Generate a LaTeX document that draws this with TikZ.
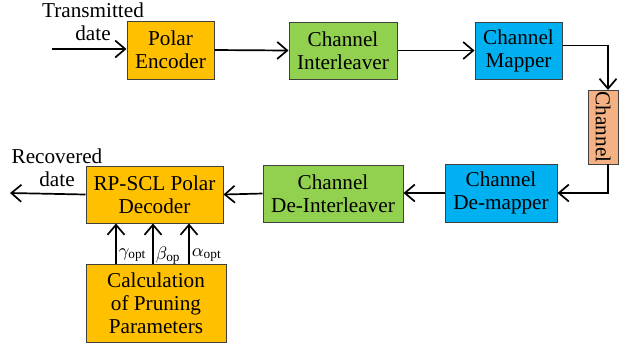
\documentclass[tikz,border=0pt]{standalone}
\usepackage{fontspec}
\setmainfont{Liberation Serif}
\usepackage{amsmath}
\usepackage{tikz}
\usetikzlibrary{calc}
\usetikzlibrary{arrows.meta}

\definecolor{encorange}{HTML}{FFC000}
\definecolor{intgreen}{HTML}{92D050}
\definecolor{mapblue}{HTML}{00B0F0}
\definecolor{chansalmon}{HTML}{F4B183}

\tikzset{
  blockbox/.style={draw=black!75, line width=0.5pt, align=center, inner sep=0pt,
    font=\fontsize{10.6}{11.5}\selectfont},
  flowarr/.style={line width=0.85pt, -{Straight Barb[length=5pt,width=8.5pt,line width=0.85pt]}},
  sidelabel/.style={align=center, font=\fontsize{10.6}{11.5}\selectfont}
}

\begin{document}
\begin{tikzpicture}[x=0.5pt,y=-0.5pt]
                \useasboundingbox (0,0) rectangle (619,345);

                % Drawing the transmitter blocks
                \node [blockbox, fill=encorange, minimum width=43.5pt, minimum height=29pt] (enc) at (170.5,50) {Polar\\Encoder};
                \node [blockbox, fill=intgreen, minimum width=54pt, minimum height=28.5pt] (intl) at (343,50.5) {Channel\\Interleaver};
                \node [blockbox, fill=mapblue, minimum width=43.5pt, minimum height=28.5pt] (mapper) at (518.5,50.5) {Channel\\Mapper};

                % Drawing the channel
                \node [blockbox, fill=chansalmon, minimum width=37pt, minimum height=15pt, rotate=-90] (chan) at (603,127) {Channel};
                \coordinate (chanin) at (608,90);
                \coordinate (chanout) at (608,164);

                % Drawing the receiver blocks
                \node [blockbox, fill=mapblue, minimum width=56pt, minimum height=29pt] (demap) at (501,193) {Channel\\De-mapper};
                \node [blockbox, fill=intgreen, minimum width=70pt, minimum height=28.5pt] (deint) at (333,193.5) {Channel\\De-Interleaver};
                \node [blockbox, fill=encorange, minimum width=68.5pt, minimum height=28.5pt] (dec) at (154.5,194.5) {RP-SCL Polar\\Decoder};
                \node [blockbox, fill=encorange, minimum width=70pt, minimum height=39pt] (calc) at (156,303) {Calculation\\of Pruning\\Parameters};

                % Marking the input and output
                \coordinate (src) at (52,49);
                \coordinate (sink) at (10,193);
                \node [sidelabel] (srclabel) at (93,22) {Transmitted\\date};
                \node [sidelabel] (sinklabel) at (57,168) {Recovered\\date};

                % Drawing the connectors
                \draw [flowarr] (src) -- (src -| enc.west);
                \draw [flowarr] (enc.east) -- (intl.west);
                \draw [flowarr] (intl.east) -- (mapper.west);
                \draw [flowarr] ([yshift=2.5pt]mapper.east) -| (chanin);
                \draw [flowarr] (chanout) |- (demap.east);
                \draw [flowarr] (demap.west) -- (demap.west -| deint.east);
                \draw [flowarr] (deint.west) -- (dec.east);
                \draw [flowarr] (dec.west) -- (sink);

                % Drawing the pruning parameters
                \foreach \dx/\lab in {-40/{\gamma_{\mathrm{opt}}}, -3/{\beta_{\mathrm{op}}}, 33/{\alpha_{\mathrm{opt}}}}
                  \draw [flowarr] ([xshift=\dx*0.5pt]calc.north) -- ([xshift=\dx*0.5pt]calc.north |- dec.south)
                    node [pos=0.2, right, inner sep=1pt, font=\fontsize{9.5}{10}\selectfont] {$\lab$};
\end{tikzpicture}
\end{document}
